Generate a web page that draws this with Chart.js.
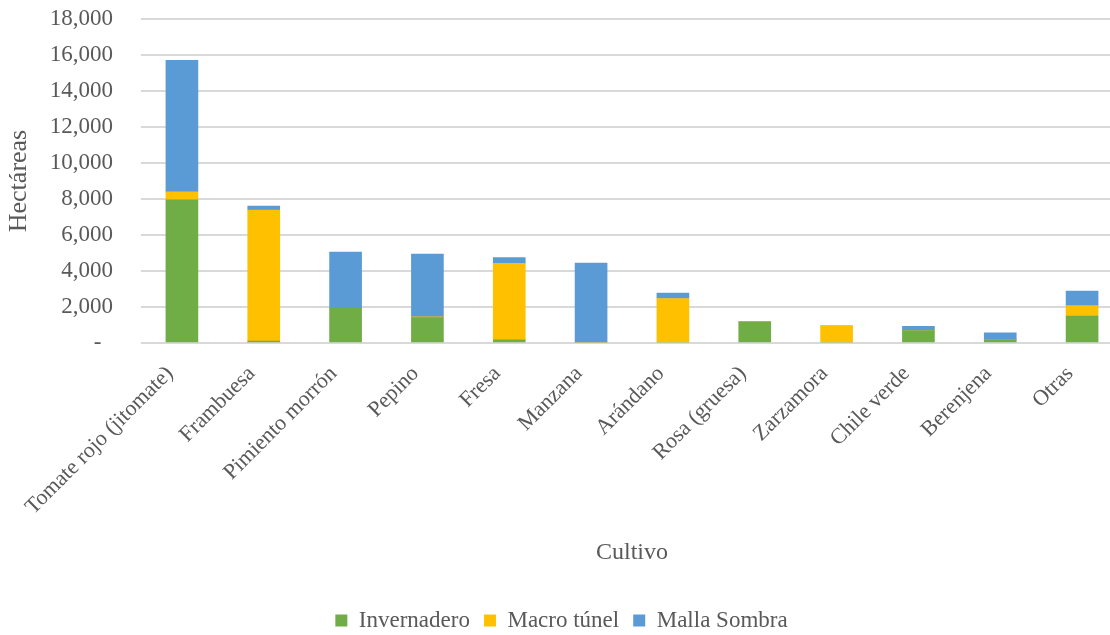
<!DOCTYPE html>
<html>
<head>
<meta charset="utf-8">
<script src="https://cdn.jsdelivr.net/npm/chart.js@4.4.1/dist/chart.umd.min.js"></script>
<style>
  html, body { margin: 0; padding: 0; overflow: hidden; background: #fff; }
  #wrap { width: 1135px; height: 635px; position: relative; }
</style>
</head>
<body>
<div id="wrap"><canvas id="c"></canvas></div>
<script>
const categories = ['Tomate rojo (jitomate)', 'Frambuesa', 'Pimiento morrón', 'Pepino', 'Fresa', 'Manzana', 'Arándano', 'Rosa (gruesa)', 'Zarzamora', 'Chile verde', 'Berenjena', 'Otras'];
const invernadero = [7950, 100, 1930, 1410, 180, 0, 0, 1170, 0, 670, 170, 1500];
const macroTunel  = [450, 7290, 0, 40, 4240, 0, 2470, 0, 930, 0, 0, 580];
const mallaSombra = [7310, 220, 3120, 3490, 320, 4440, 300, 0, 20, 260, 400, 800];
const yTicks = [0, 2000, 4000, 6000, 8000, 10000, 12000, 14000, 16000, 18000];

const TXT = '#595959';
const FONT = "'Liberation Serif', 'Times New Roman', serif";

new Chart(document.getElementById('c'), {
  type: 'bar',
  data: {
    labels: categories,
    datasets: [
      { label: 'Invernadero', data: invernadero, backgroundColor: '#70AD47' },
      { label: 'Macro túnel', data: macroTunel, backgroundColor: '#FFC000' },
      { label: 'Malla Sombra', data: mallaSombra, backgroundColor: '#5B9BD5' }
    ]
  },
  options: {
    responsive: true,
    maintainAspectRatio: false,
    animation: false,
    layout: { padding: { left: 0, right: 12, top: 19, bottom: -7 } },
    datasets: { bar: { barThickness: 32 } },
    plugins: {
      tooltip: { enabled: false },
      legend: {
        position: 'bottom',
        labels: { color: TXT, font: { family: FONT, size: 23 }, boxWidth: 12, boxHeight: 12, padding: 14 }
      }
    },
    scales: {
      x: {
        stacked: true,
        grid: { display: false, drawTicks: false },
        border: { display: false },
        ticks: { color: TXT, font: { family: FONT, size: 22 }, maxRotation: 45, minRotation: 45, padding: 18, labelOffset: -12, autoSkip: false },
        title: { display: true, text: 'Cultivo', color: TXT, font: { family: FONT, size: 24 }, padding: { top: 0, bottom: 28 } },
        afterFit: (s) => { s.height = 252; }
      },
      y: {
        stacked: true,
        min: 0, max: 18000,
        afterBuildTicks: (s) => { s.ticks = yTicks.map(v => ({ value: v })); },
        grid: { color: '#D9D9D9', lineWidth: 2, drawTicks: true, tickLength: 26, tickColor: 'rgba(0,0,0,0)' },
        border: { display: false },
        ticks: {
          color: TXT, font: { family: FONT, size: 23 }, padding: 2,
          callback: (v) => v === 0 ? '-\u00A0\u00A0' : Number(v).toLocaleString('en-US')
        },
        title: { display: true, text: 'Hectáreas', color: TXT, font: { family: FONT, size: 26 }, padding: { top: 4, bottom: 0 } },
        afterFit: (s) => { s.width = 141; }
      }
    }
  }
});
</script>
</body>
</html>
